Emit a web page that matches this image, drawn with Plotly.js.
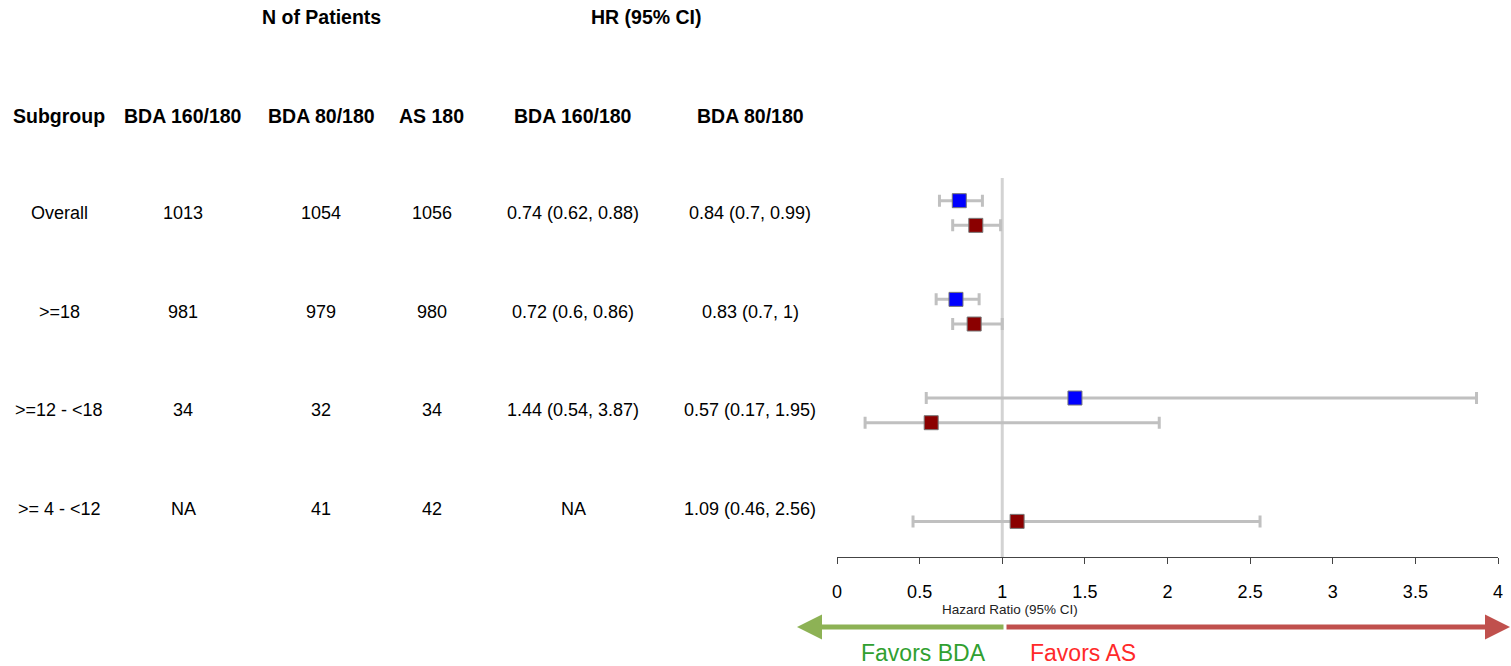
<!DOCTYPE html>
<html><head><meta charset="utf-8">
<script src="https://cdn.plot.ly/plotly-3.0.1.min.js"></script>
<style>html,body{margin:0;padding:0;background:#fff}#c{width:1511px;height:666px}</style>
</head><body><div id="c"></div>
<script>
const subgroups = ["Overall", ">=18", ">=12 - <18", ">= 4 - <12"];
const nBDA160 = ["1013", "981", "34", "NA"];
const nBDA80 = ["1054", "979", "32", "41"];
const nAS180 = ["1056", "980", "34", "42"];
const hr160 = [0.74, 0.72, 1.44, null];
const lo160 = [0.62, 0.6, 0.54, null];
const hi160 = [0.88, 0.86, 3.87, null];
const hr80 = [0.84, 0.83, 0.57, 1.09];
const lo80 = [0.7, 0.7, 0.17, 0.46];
const hi80 = [0.99, 1, 1.95, 2.56];
const xTicks = [0, 0.5, 1, 1.5, 2, 2.5, 3, 3.5, 4];
const colHeaders = ["Subgroup", "BDA 160/180", "BDA 80/180", "AS 180", "BDA 160/180", "BDA 80/180"];

const W = 1511, H = 666;
const px = v => v / W;
const py = v => 1 - v / H;
const OFF = 0.125;
const FAM = "Liberation Sans, Arial, sans-serif";

function fmtHR(h, l, u) { return h == null ? "NA" : `${h} (${l}, ${u})`; }

function seriesTrace(hr, lo, hi, off, color) {
  const x = [], y = [], plus = [], minus = [];
  hr.forEach((h, i) => {
    if (h == null) return;
    x.push(h); y.push(i + off);
    plus.push(hi[i] - h); minus.push(h - lo[i]);
  });
  return {
    type: "scatter", mode: "markers", x, y,
    marker: { symbol: "square", size: 14, color, line: { color: "#777", width: 1 } },
    error_x: { type: "data", array: plus, arrayminus: minus, color: "#c0c0c0", thickness: 3, width: 6 },
    hoverinfo: "x", showlegend: false
  };
}

const traces = [
  seriesTrace(hr160, lo160, hi160, -OFF, "#0000ff"),
  seriesTrace(hr80, lo80, hi80, OFF, "#8b0000")
];

const ann = [];
const bodyFont = { family: FAM, size: 18, color: "#000" };
const headFont = { family: FAM, size: 19.5, color: "#000" };
const colX = [59, 183, 321, 432, 573, 750];

ann.push({ xref: "paper", yref: "paper", x: px(321), y: py(17), text: "<b>N of Patients</b>", showarrow: false, font: headFont, xanchor: "center", yanchor: "middle" });
ann.push({ xref: "paper", yref: "paper", x: px(646), y: py(17), text: "<b>HR (95% CI)</b>", showarrow: false, font: headFont, xanchor: "center", yanchor: "middle" });
colHeaders.forEach((t, j) => ann.push({ xref: "paper", yref: "paper", x: px(colX[j]), y: py(116), text: "<b>" + t + "</b>", showarrow: false, font: headFont, xanchor: "center", yanchor: "middle" }));

subgroups.forEach((s, i) => {
  const vals = [s, nBDA160[i], nBDA80[i], nAS180[i], fmtHR(hr160[i], lo160[i], hi160[i]), fmtHR(hr80[i], lo80[i], hi80[i])];
  vals.forEach((t, j) => ann.push({ xref: "paper", yref: "y", x: px(colX[j]), y: i, text: t.replace(/</g, "&lt;").replace(/>/g, "&gt;"), showarrow: false, font: bodyFont, xanchor: "center", yanchor: "middle" }));
});

ann.push({ xref: "paper", yref: "paper", x: px(1010), y: py(609), text: "Hazard Ratio (95% CI)", showarrow: false, font: { family: FAM, size: 13.5, color: "#222" }, xanchor: "center", yanchor: "middle" });

// arrows
ann.push({ xref: "paper", yref: "paper", x: px(797), y: py(627), ax: px(1005), ay: py(627), axref: "paper", ayref: "paper", text: "", showarrow: true, arrowhead: 2, arrowsize: 1, arrowwidth: 5, arrowcolor: "#8db255" });
ann.push({ xref: "paper", yref: "paper", x: px(1511), y: py(627), ax: px(1005), ay: py(627), axref: "paper", ayref: "paper", text: "", showarrow: true, arrowhead: 2, arrowsize: 1, arrowwidth: 5, arrowcolor: "#c0504d" });
ann.push({ xref: "paper", yref: "paper", x: px(923), y: py(653), text: "Favors BDA", showarrow: false, font: { family: FAM, size: 23, color: "#30a030" }, xanchor: "center", yanchor: "middle" });
ann.push({ xref: "paper", yref: "paper", x: px(1083), y: py(653), text: "Favors AS", showarrow: false, font: { family: FAM, size: 23, color: "#ff2a2a" }, xanchor: "center", yanchor: "middle" });

const layout = {
  width: W, height: H,
  margin: { l: 0, r: 0, t: 0, b: 0 },
  paper_bgcolor: "#fff", plot_bgcolor: "#fff",
  showlegend: false,
  xaxis: {
    domain: [px(837), px(1498)], range: [0, 4], tickvals: xTicks, ticktext: xTicks.map(String),
    showgrid: false, zeroline: false, showline: true, linecolor: "#444", linewidth: 1,
    ticks: "outside", ticklen: 6, tickcolor: "#444", tickwidth: 1,
    ticklabelstandoff: 12,
    tickfont: { family: FAM, size: 18, color: "#000" },
    fixedrange: true
  },
  yaxis: {
    domain: [py(557), py(140)], range: [3.486, -0.74], visible: false, fixedrange: true
  },
  shapes: [
    { type: "line", xref: "x", yref: "paper", x0: 1, x1: 1, y0: py(557), y1: py(178), line: { color: "#d3d3d3", width: 3 }, layer: "below" }
  ],
  annotations: ann
};

Plotly.newPlot("c", traces, layout, { displayModeBar: false, staticPlot: true });
</script></body></html>
